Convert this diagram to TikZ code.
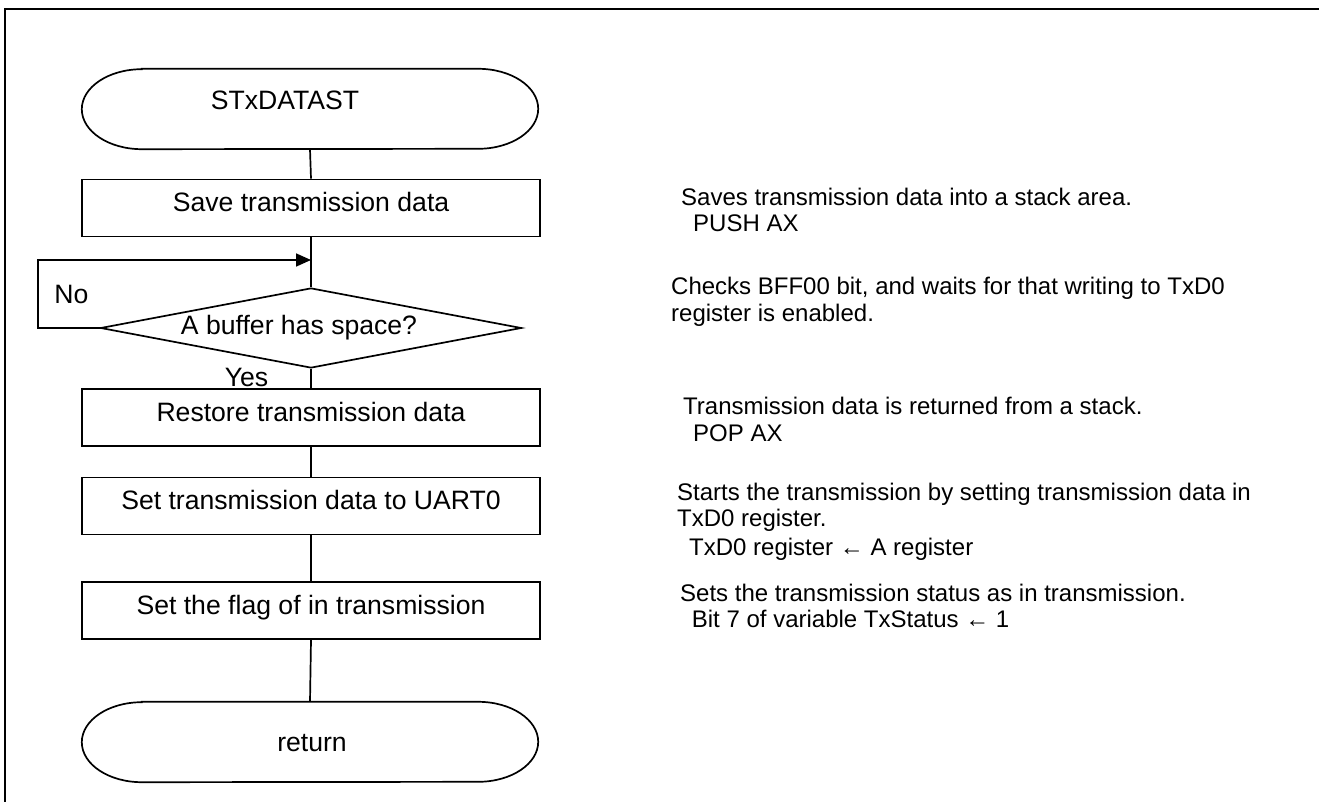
\documentclass[tikz,border=0pt]{standalone}
\usepackage{fontspec}
\setmainfont{Liberation Sans}
\usetikzlibrary{arrows.meta,shapes.geometric}
\tikzset{
  flow/.style={line width=1.7pt},
  procbox/.style={draw, line width=1.7pt, rectangle, minimum width=458pt, minimum height=57pt,
    inner sep=0pt, font=\fontsize{26.6}{30}\selectfont, text height=18pt, text depth=11pt},
  termbox/.style={rectangle, minimum width=456pt, minimum height=80pt, inner sep=0pt},
  decision/.style={draw, line width=1.7pt, diamond, minimum width=421pt, minimum height=80pt, inner sep=0pt},
  ftxt/.style={anchor=base, inner sep=0pt, font=\fontsize{26.6}{30}\selectfont},
  note/.style={anchor=base west, inner sep=0pt, font=\fontsize{24}{27}\selectfont},
  tip/.style={-{Triangle[length=15pt,width=13pt]}}
}
\newcommand\termshape[1]{%
  \draw[flow] ([xshift=60pt]#1.north west) -- ([xshift=-60pt]#1.north east)
    arc[start angle=90,end angle=-90,x radius=60pt,y radius=40pt]
    -- ([xshift=60pt]#1.south west)
    arc[start angle=270,end angle=90,x radius=60pt,y radius=40pt] -- cycle;}
\begin{document}
\begin{tikzpicture}[x=1pt,y=-1pt]
\useasboundingbox (0,0) rectangle (1319,802);
\fill[white] (0,0) rectangle (1319,802);
% outer frame (partially visible)
\draw[line width=2pt] (1319,9) -- (5,9) -- (5,802);

% terminals
\node[termbox] (start) at (310,109) {};
\termshape{start}
\node[ftxt] (starttxt) at (285,110) {STxDATAST};

\node[procbox] (save) at (311,208) {Save transmission data};
\node[decision] (dec) at (311,328) {};
\node[ftxt] (dectxt) at (299,334.5) {A buffer has space?};
\node[procbox] (restore) at (311,417.5) {Restore transmission data};
\node[procbox] (setu) at (311,506) {Set transmission data to UART0};
\node[procbox] (flag) at (311,610.5) {Set the flag of in transmission};

\node[termbox] (ret) at (310,742) {};
\termshape{ret}
\node[ftxt] (rettxt) at (312,751) {return};

% labels
\node[ftxt] (nolab) at (71.5,303.5) {No};
\node[ftxt] (yeslab) at (246.5,386) {Yes};

% connectors
\coordinate (lp1) at (38,328);
\coordinate (lp2) at (38,260);
\coordinate (mrg) at (311,260);
\draw[flow] (start.south) -- (save.north);
\draw[flow] (save.south) -- (dec.north);
\draw[flow,tip] (dec.west) -- (lp1) -- (lp2) -- (mrg);
\draw[flow] (dec.south) -- (restore.north);
\draw[flow] (restore.south) -- (setu.north);
\draw[flow] (setu.south) -- (flag.north);
\draw[flow] (flag.south) -- (ret.north);

% annotations
\node[note] (a1) at (681,206) {Saves transmission data into a stack area.};
\node[note] (a1b) at (693,232) {PUSH AX};
\node[note] (a2) at (671,294.5) {Checks BFF00 bit, and waits for that writing to TxD0};
\node[note] (a2b) at (671,321) {register is enabled.};
\node[note] (a3) at (683,414) {Transmission data is returned from a stack.};
\node[note] (a3b) at (693,441.7) {POP AX};
\node[note] (a4) at (677,500.7) {Starts the transmission by setting transmission data in};
\node[note] (a4b) at (677,526.7) {TxD0 register.};
\node[note] (a4c) at (689,555) {TxD0 register ← A register};
\node[note] (a5) at (680,601.7) {Sets the transmission status as in transmission.};
\node[note] (a5b) at (691.7,627.3) {Bit 7 of variable TxStatus ← 1};
\end{tikzpicture}
\end{document}
